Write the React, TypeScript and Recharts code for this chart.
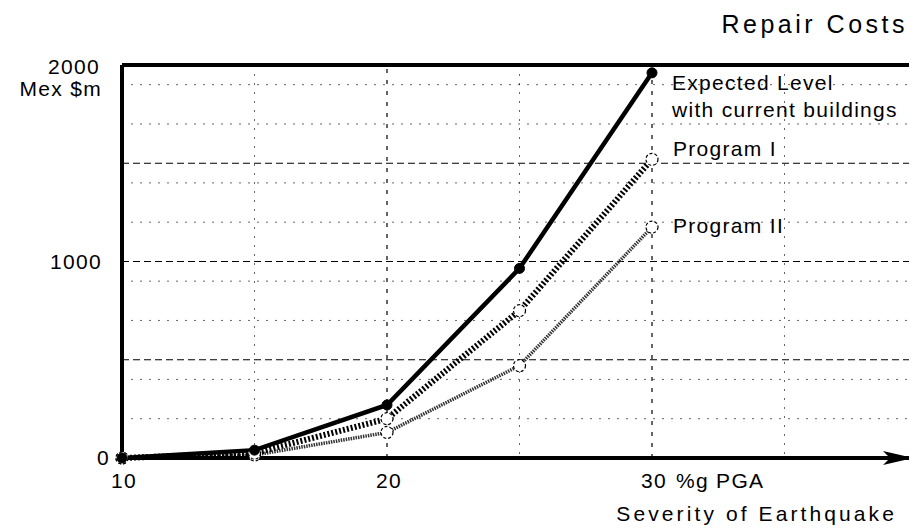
import React from 'react';
import {
  LineChart,
  Line,
  XAxis,
  YAxis,
  CartesianGrid,
  ReferenceLine,
  ReferenceDot
} from 'recharts';

// severity of earthquake, %g PGA
const severity = [10, 15, 20, 25, 30];
// repair costs, Mex $m
const expectedLevel = [0, 40, 270, 965, 1960];
const programOne = [0, 25, 200, 750, 1520];
const programTwo = [0, 15, 130, 470, 1175];

const xTicks = [10, 20, 30];
const yTicks = [0, 1000, 2000];
const majorY = [500, 1000, 1500];
const majorX = [20, 30];
const minorX = [15, 25, 35];
const minorY = [100, 200, 300, 400, 600, 700, 800, 900, 1100, 1200, 1300, 1400, 1600, 1700, 1800, 1900];

const seriesLabels = {
  expected: ['Expected Level', 'with current buildings'],
  p1: ['Program I'],
  p2: ['Program II']
};

const data = severity.map((s, i) => ({
  severity: s,
  expected: expectedLevel[i],
  p1: programOne[i],
  p2: programTwo[i]
}));

const FONT = '"Liberation Sans", Arial, sans-serif';
const txt = { fontFamily: FONT, fontSize: 21, fill: '#000', letterSpacing: 1.3 };

function XTick({ x, y, payload }: any) {
  const v = payload.value;
  return (
    <g>
      <text x={x + 2} y={y + 30} textAnchor="middle" {...txt}>{v}</text>
      {v === 30 && (
        <text x={x + 24} y={y + 30} textAnchor="start" {...txt}>%g PGA</text>
      )}
    </g>
  );
}

function YTick({ x, y, payload }: any) {
  const v = payload.value;
  if (v === 0) {
    return <text x={x - 12} y={y + 7} textAnchor="end" {...txt}>0</text>;
  }
  if (v === 2000) {
    return (
      <g>
        <text x={x - 22} y={y + 9} textAnchor="end" {...txt}>2000</text>
        <text x={x - 20} y={y + 31} textAnchor="end" {...txt}>Mex $m</text>
      </g>
    );
  }
  return <text x={x - 20} y={y + 7} textAnchor="end" {...txt}>{v}</text>;
}

const endLabel = (lines: string[], dx: number, dy: number) => (props: any) => {
  const { x, y, index } = props;
  if (index !== data.length - 1) return <g />;
  return (
    <g>
      {lines.map((l, i) => (
        <text key={i} x={x + dx} y={y + dy + i * 27} {...txt}>{l}</text>
      ))}
    </g>
  );
};

const filledDot = (props: any) => (
  <circle key={props.index} cx={props.cx} cy={props.cy} r={5} fill="#000" stroke="#000" />
);
const hollowDot = (props: any) => (
  <circle key={props.index} cx={props.cx} cy={props.cy} r={6} fill="#fff" stroke="#000" strokeWidth={1.2} strokeDasharray="3 2" />
);

const Arrow = (props: any) => {
  const { cx, cy } = props;
  return (
    <polygon
      points={`${cx - 4},${cy} ${cx - 34},${cy - 7} ${cx - 27},${cy} ${cx - 34},${cy + 7}`}
      fill="#000"
    />
  );
};

export default function App() {
  return (
    <div style={{ position: 'relative', width: 909, height: 522 }}>
      <LineChart
        width={909}
        height={522}
        data={data}
        margin={{ top: 57, right: 0, bottom: 12, left: 14 }}
      >
        <CartesianGrid
          stroke="#000"
          strokeOpacity={0.6}
          strokeDasharray="2 7"
          horizontalValues={minorY}
          verticalValues={minorX}
        />
        <XAxis
          dataKey="severity"
          type="number"
          domain={[10, 40]}
          ticks={xTicks}
          height={60}
          tickSize={0}
          tickMargin={0}
          tickLine={false}
          axisLine={{ stroke: '#000', strokeWidth: 4 }}
          tick={<XTick />}
        />
        <YAxis
          type="number"
          domain={[0, 2000]}
          ticks={yTicks}
          width={100}
          tickSize={0}
          tickMargin={0}
          tickLine={false}
          axisLine={{ stroke: '#000', strokeWidth: 4 }}
          tick={<YTick />}
        />
        {majorY.map((v) => (
          <ReferenceLine key={'y' + v} y={v} stroke="#000" strokeWidth={1.2} strokeDasharray="7 4" />
        ))}
        {majorX.map((v) => (
          <ReferenceLine key={'x' + v} x={v} stroke="#000" strokeWidth={1.2} strokeDasharray="4 7" />
        ))}
        <ReferenceLine y={2000} stroke="#000" strokeWidth={4} />
        <ReferenceLine x={40} stroke="#000" strokeWidth={2} />
        <Line
          dataKey="p2"
          stroke="#333"
          strokeWidth={3.5}
          strokeDasharray="1.5 1"
          dot={hollowDot}
          label={endLabel(seriesLabels.p2, 21, 6)}
          isAnimationActive={false}
        />
        <Line
          dataKey="p1"
          stroke="#000"
          strokeWidth={6}
          strokeDasharray="2 2"
          dot={hollowDot}
          label={endLabel(seriesLabels.p1, 21, -3)}
          isAnimationActive={false}
        />
        <Line
          dataKey="expected"
          stroke="#000"
          strokeWidth={4.5}
          dot={filledDot}
          label={endLabel(seriesLabels.expected, 20, 17)}
          isAnimationActive={false}
        />
        <ReferenceDot x={40} y={0} r={0} ifOverflow="visible" shape={<Arrow />} />
      </LineChart>
      <svg
        width={909}
        height={522}
        style={{ position: 'absolute', left: 0, top: 0, pointerEvents: 'none' }}
      >
        <text x={900} y={25} textAnchor="end" fontFamily={FONT} fontSize={25} letterSpacing={3.5}>
          Repair Costs
        </text>
        <text x={889} y={513} textAnchor="end" fontFamily={FONT} fontSize={21} letterSpacing={3.1}>
          Severity of Earthquake
        </text>
      </svg>
    </div>
  );
}
